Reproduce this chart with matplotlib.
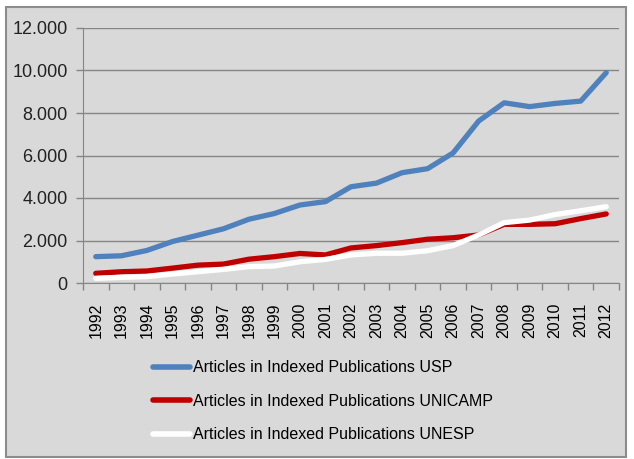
import matplotlib
matplotlib.use("Agg")
import matplotlib.pyplot as plt
from matplotlib.patches import Rectangle
from matplotlib.ticker import FuncFormatter

years = [str(y) for y in range(1992, 2013)]
usp = [1240, 1280, 1530, 1950, 2250, 2550, 3000, 3270, 3670, 3830, 4530, 4700, 5190, 5380, 6120, 7620, 8480, 8300, 8450, 8560, 9900]
unicamp = [455, 530, 565, 700, 840, 890, 1120, 1240, 1390, 1320, 1650, 1760, 1900, 2060, 2130, 2260, 2760, 2760, 2790, 3030, 3250]
unesp = [220, 265, 300, 420, 530, 640, 770, 800, 1000, 1110, 1320, 1400, 1400, 1520, 1760, 2260, 2840, 2960, 3220, 3400, 3590]
labels = ["Articles in Indexed Publications USP",
          "Articles in Indexed Publications UNICAMP",
          "Articles in Indexed Publications UNESP"]
colors = ["#4f81bd", "#c00000", "#ffffff"]

plt.rcParams['font.family'] = ['Liberation Sans', 'DejaVu Sans']

W, H = 634, 459
fig = plt.figure(figsize=(W/100, H/100), dpi=100)
fig.patch.set_facecolor("white")
bg = fig.add_axes([0, 0, 1, 1], zorder=-5)
bg.set_xlim(0, W)
bg.set_ylim(H, 0)
bg.axis("off")
bg.add_patch(Rectangle((6, 7), 620, 450, facecolor="#d9d9d9", edgecolor="#8c8c8c", linewidth=1.5))

ax = fig.add_axes([83/W, 1-283/H, (619-83)/W, (283-28)/H], zorder=1)
ax.set_facecolor("none")
x = list(range(len(years)))
for vals, c, lab in zip([usp, unicamp, unesp], colors, labels):
    ax.plot(x, vals, color=c, linewidth=3.8, label=lab, solid_capstyle="round")

ax.set_xlim(-0.5, len(years)-0.5)
ax.set_ylim(0, 12000)
ax.set_yticks(range(0, 12001, 2000))
ax.yaxis.set_major_formatter(FuncFormatter(lambda v, p: f"{int(v):,}".replace(",", ".")))
ax.set_xticks(x)
ax.set_xticklabels(years, rotation=90, fontsize=11.5)
ax.set_xticks([i - 0.5 for i in range(len(years)+1)], minor=True)
ax.tick_params(axis='x', which='major', length=0, pad=14)
ax.tick_params(axis='x', which='minor', length=5, color="#868686", width=1)
ax.tick_params(axis='y', length=5, color="#868686", width=1, labelsize=13, pad=6)
for lab in ax.get_yticklabels():
    lab.set_color("#222222")
ax.grid(axis='y', color="#868686", linewidth=1)
ax.set_axisbelow(True)
for s in ["top", "right"]:
    ax.spines[s].set_visible(False)
ax.spines["left"].set_color("#868686")
ax.spines["bottom"].set_color("#868686")

leg = fig.legend(loc="upper left", bbox_to_anchor=(139/W, 1-346/H), frameon=False,
                 fontsize=11.5, handlelength=2.3, handletextpad=0.15, labelspacing=1.15)
for line in leg.get_lines():
    line.set_linewidth(4)

fig.savefig("out.png", dpi=100)
